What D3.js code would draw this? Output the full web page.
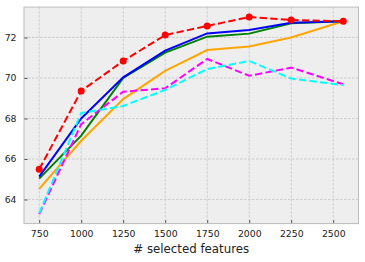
<!DOCTYPE html>
<html>
<head>
<script src="https://d3js.org/d3.v7.min.js"></script>
<style>
body{margin:0;background:#fff;}
text{font-family:"DejaVu Sans",sans-serif;fill:#222;}
</style>
</head>
<body>
<svg id="chart" width="365" height="262"></svg>
<script>
// number of selected features
var features = [750, 1000, 1250, 1500, 1750, 2000, 2250, 2560];

var redVals     = [65.49, 69.36, 70.84, 72.12, 72.57, 73.01, 72.86, 72.80];
var blueVals    = [65.13, 68.00, 70.03, 71.35, 72.20, 72.37, 72.73, 72.80];
var greenVals   = [65.03, 67.15, 70.00, 71.25, 72.04, 72.19, 72.70, 72.80];
var orangeVals  = [64.52, 66.90, 68.96, 70.35, 71.38, 71.55, 72.00, 72.80];
var magentaVals = [63.28, 67.72, 69.32, 69.49, 70.94, 70.11, 70.51, 69.69];
var cyanVals    = [63.32, 68.27, 68.62, 69.41, 70.44, 70.84, 69.97, 69.65];

var xTicks = [750, 1000, 1250, 1500, 1750, 2000, 2250, 2500];
var yTicks = [64, 66, 68, 70, 72];

var series = [
  {vals: orangeVals,  color: "orange",  dash: null},
  {vals: greenVals,   color: "green",   dash: null},
  {vals: blueVals,    color: "blue",    dash: null},
  {vals: magentaVals, color: "magenta", dash: "7.4,3.2"},
  {vals: cyanVals,    color: "cyan",    dash: "7.4,3.2"},
  {vals: redVals,     color: "red",     dash: "7.4,3.2", marker: true}
];

var svg = d3.select("#chart");
var pLeft = 24, pRight = 358.5, pTop = 7.1, pBottom = 223.6;

var x = d3.scaleLinear().domain([659.5, 2650.5]).range([pLeft, pRight]);
var y = d3.scaleLinear().domain([62.81, 73.5]).range([pBottom, pTop]);

svg.append("rect")
  .attr("x", pLeft).attr("y", pTop)
  .attr("width", pRight - pLeft).attr("height", pBottom - pTop)
  .attr("fill", "#eeeeee");

// grid
svg.append("g").selectAll("line").data(xTicks).enter().append("line")
  .attr("x1", d => x(d)).attr("x2", d => x(d))
  .attr("y1", pTop).attr("y2", pBottom)
  .attr("stroke", "#c4c4c4").attr("stroke-width", 0.8)
  .attr("stroke-dasharray", "2.5,1.5");
svg.append("g").selectAll("line").data(yTicks).enter().append("line")
  .attr("y1", d => y(d)).attr("y2", d => y(d))
  .attr("x1", pLeft).attr("x2", pRight)
  .attr("stroke", "#c4c4c4").attr("stroke-width", 0.8)
  .attr("stroke-dasharray", "2.5,1.5");

// axes
var xAxis = d3.axisBottom(x).tickValues(xTicks).tickFormat(d3.format("d"))
  .tickSizeInner(-3.5).tickSizeOuter(0).tickPadding(6.5);
var gx = svg.append("g").attr("transform", "translate(0," + pBottom + ")").call(xAxis);
gx.select(".domain").remove();
gx.selectAll(".tick line").attr("stroke", "#555");
gx.selectAll("text").attr("font-size", "9.3px").attr("fill", "#222")
  .attr("font-family", "DejaVu Sans");

var yAxis = d3.axisLeft(y).tickValues(yTicks).tickFormat(d3.format("d"))
  .tickSizeInner(-3.5).tickSizeOuter(0).tickPadding(7.5);
var gy = svg.append("g").attr("transform", "translate(" + pLeft + ",0)").call(yAxis);
gy.select(".domain").remove();
gy.selectAll(".tick line").attr("stroke", "#555");
gy.selectAll("text").attr("font-size", "9.3px").attr("fill", "#222")
  .attr("font-family", "DejaVu Sans");

svg.append("defs").append("clipPath").attr("id", "clip")
  .append("rect").attr("x", pLeft).attr("y", pTop)
  .attr("width", pRight - pLeft).attr("height", pBottom - pTop);

var line = d3.line().x((d, i) => x(features[i])).y(d => y(d));

var plot = svg.append("g").attr("clip-path", "url(#clip)");
series.forEach(function(s) {
  plot.append("path")
    .attr("d", line(s.vals))
    .attr("fill", "none")
    .attr("stroke", s.color)
    .attr("stroke-width", 2)
    .attr("stroke-dasharray", s.dash);
  if (s.marker) {
    plot.selectAll(".dot").data(s.vals).enter().append("circle")
      .attr("cx", (d, i) => x(features[i]))
      .attr("cy", d => y(d))
      .attr("r", 3.5)
      .attr("fill", s.color);
  }
});

svg.append("rect")
  .attr("x", pLeft).attr("y", pTop)
  .attr("width", pRight - pLeft).attr("height", pBottom - pTop)
  .attr("fill", "none").attr("stroke", "#bcbcbc").attr("stroke-width", 1);

svg.append("text")
  .attr("x", (pLeft + pRight) / 2).attr("y", 252.5)
  .attr("text-anchor", "middle")
  .attr("font-size", "11.8px")
  .text("# selected features");
</script>
</body>
</html>
